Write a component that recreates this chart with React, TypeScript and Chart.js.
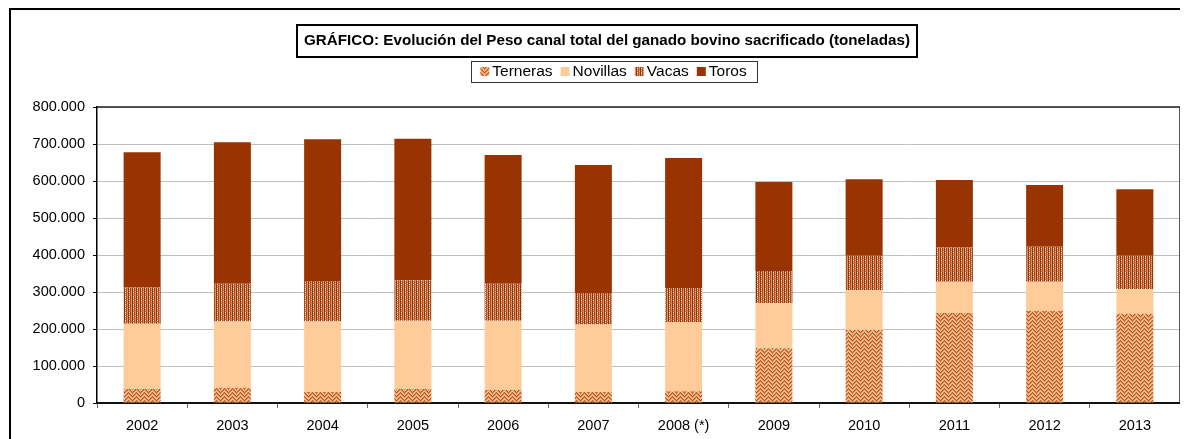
import React, { useEffect, useRef } from 'react';
import { Chart, registerables } from 'chart.js';

Chart.register(...registerables);

const categories = ['2002', '2003', '2004', '2005', '2006', '2007', '2008 (*)', '2009', '2010', '2011', '2012', '2013'];
const terneras = [38000, 41000, 30000, 38000, 35000, 30000, 32000, 148000, 197000, 243000, 249000, 241000];
const novillas = [176000, 179000, 190000, 184000, 187000, 182000, 187000, 122000, 108000, 85000, 79000, 67000];
const vacas = [98000, 102000, 110000, 110000, 100000, 85000, 92000, 87000, 93000, 92000, 94000, 90000];
const toros = [366000, 383000, 383000, 382000, 348000, 346000, 351000, 240000, 207000, 183000, 167000, 180000];
const seriesNames = ['Terneras', 'Novillas', 'Vacas', 'Toros'];
const yMax = 800000;
const yStep = 100000;
const titleText = 'GRÁFICO: Evolución del Peso canal total del ganado bovino sacrificado (toneladas)';

const FONT = "'Liberation Sans', Arial, sans-serif";

function makePattern(size: number, draw: (c: CanvasRenderingContext2D) => void): CanvasPattern | string {
  const cv = document.createElement('canvas');
  cv.width = size;
  cv.height = size;
  const c = cv.getContext('2d');
  if (!c) return '#cc6633';
  draw(c);
  const ctx = document.createElement('canvas').getContext('2d');
  const p = ctx ? ctx.createPattern(cv, 'repeat') : null;
  return p || '#cc6633';
}

function ternerasPattern() {
  return makePattern(8, (c) => {
    c.fillStyle = '#F4BA84';
    c.fillRect(0, 0, 8, 8);
    const tri = [0, 1, 2, 3, 4, 3, 2, 1];
    for (let x = 0; x < 8; x++) {
      for (let y = 0; y < 8; y++) {
        const k = (((y - tri[x]) % 4) + 4) % 4;
        if (k === 0) {
          c.fillStyle = '#BE5026';
          c.fillRect(x, y, 1, 1);
        } else if (k === 1) {
          c.fillStyle = '#D98250';
          c.fillRect(x, y, 1, 1);
        }
      }
    }
  });
}

function vacasPattern() {
  return makePattern(4, (c) => {
    const cols = [
      ['#993300', '#993300', '#993300', '#993300'],
      ['#FFFFFF', '#C87040', '#F0C8A8', '#C87040'],
      ['#A64418', '#B2582C', '#A64418', '#B2582C'],
      ['#CC8050', '#E2A47C', '#CC8050', '#E2A47C'],
    ];
    for (let x = 0; x < 4; x++) {
      for (let y = 0; y < 4; y++) {
        c.fillStyle = cols[x][y];
        c.fillRect(x, y, 1, 1);
      }
    }
  });
}

function fmt(v: number) {
  return String(Math.round(v)).replace(/\B(?=(\d{3})+(?!\d))/g, '.');
}

export default function App() {
  const ref = useRef<HTMLCanvasElement | null>(null);

  useEffect(() => {
    document.documentElement.style.overflow = 'hidden';
    document.body.style.overflow = 'hidden';
    const canvas = ref.current;
    if (!canvas) return;

    const fills: any[] = [ternerasPattern(), '#FFCC99', vacasPattern(), '#993300'];
    const values = [terneras, novillas, vacas, toros];

    const decor = {
      id: 'decor',
      beforeDraw(chart: any) {
        const ctx = chart.ctx;
        ctx.save();
        ctx.fillStyle = '#ffffff';
        ctx.fillRect(0, 0, chart.width, chart.height);
        ctx.restore();
      },
      afterDraw(chart: any) {
        const ctx = chart.ctx as CanvasRenderingContext2D;
        const a = chart.chartArea;
        ctx.save();
        // outer frame
        ctx.strokeStyle = '#000';
        ctx.lineWidth = 2;
        ctx.beginPath();
        ctx.moveTo(2, chart.height);
        ctx.lineTo(2, 1);
        ctx.lineTo(chart.width, 1);
        ctx.stroke();

        // plot area top + right borders
        ctx.lineWidth = 1.5;
        ctx.strokeStyle = '#222';
        ctx.beginPath();
        ctx.moveTo(a.left, a.top);
        ctx.lineTo(a.right, a.top);
        ctx.lineTo(a.right, a.bottom);
        ctx.stroke();

        // title box
        ctx.lineWidth = 2;
        ctx.strokeStyle = '#000';
        ctx.strokeRect(289, 17, 620, 32);
        ctx.fillStyle = '#000';
        ctx.font = `bold 15.2px ${FONT}`;
        ctx.textAlign = 'center';
        ctx.textBaseline = 'middle';
        ctx.fillText(titleText, 599, 33);

        // legend box
        ctx.lineWidth = 1;
        ctx.strokeStyle = '#333';
        ctx.strokeRect(463.5, 53.5, 286, 21);
        ctx.font = `15.5px ${FONT}`;
        ctx.textAlign = 'left';
        const sq = 9;
        const gapText = 3;
        const gapItem = 8;
        let total = 0;
        const widths = seriesNames.map((n) => ctx.measureText(n).width);
        widths.forEach((w, i) => {
          total += sq + gapText + w + (i < widths.length - 1 ? gapItem : 0);
        });
        let x = 463.5 + (286 - total) / 2 - 1;
        const cy = 64;
        seriesNames.forEach((n, i) => {
          ctx.fillStyle = fills[i];
          ctx.fillRect(x, cy - sq / 2 - 0.5, sq, sq);
          x += sq + gapText;
          ctx.fillStyle = '#000';
          ctx.fillText(n, x, cy);
          x += widths[i] + gapItem;
        });
        ctx.restore();
      },
    };

    const chart = new Chart(canvas, {
      type: 'bar',
      data: {
        labels: categories,
        datasets: seriesNames.map((name, i) => ({
          label: name,
          data: values[i],
          backgroundColor: fills[i],
          borderWidth: 0,
          barPercentage: 0.41,
          categoryPercentage: 1,
        })),
      },
      options: {
        responsive: false,
        animation: false,
        devicePixelRatio: 1,
        layout: { padding: { top: 99, right: 8, left: 0, bottom: 0 } },
        plugins: {
          legend: { display: false },
          title: { display: false },
          tooltip: { enabled: false },
        },
        scales: {
          x: {
            stacked: true,
            afterFit: (s: any) => {
              s.height = 36;
            },
            grid: {
              display: true,
              drawOnChartArea: false,
              drawTicks: true,
              tickLength: 5,
              offset: true,
              color: '#666',
              tickColor: '#666',
            },
            border: { display: true, color: '#111', width: 2 },
            ticks: {
              color: '#000',
              font: { family: FONT, size: 14.5 },
              padding: 9,
              maxRotation: 0,
              autoSkip: false,
            },
          },
          y: {
            stacked: true,
            min: 0,
            max: yMax,
            afterFit: (s: any) => {
              s.width = 89;
            },
            grid: {
              color: '#c0c0c0',
              lineWidth: 1,
              tickLength: 4,
              tickColor: '#000',
              drawTicks: true,
            },
            border: { display: true, color: '#000', width: 1.5 },
            ticks: {
              stepSize: yStep,
              color: '#000',
              font: { family: FONT, size: 14.5 },
              padding: 8,
              callback: (v: any) => fmt(Number(v)),
            },
          },
        },
      },
      plugins: [decor],
    });

    return () => {
      chart.destroy();
    };
  }, []);

  return (
    <div style={{ width: 1180, height: 431 }}>
      <canvas ref={ref} width={1180} height={431} style={{ display: 'block' }} />
    </div>
  );
}
